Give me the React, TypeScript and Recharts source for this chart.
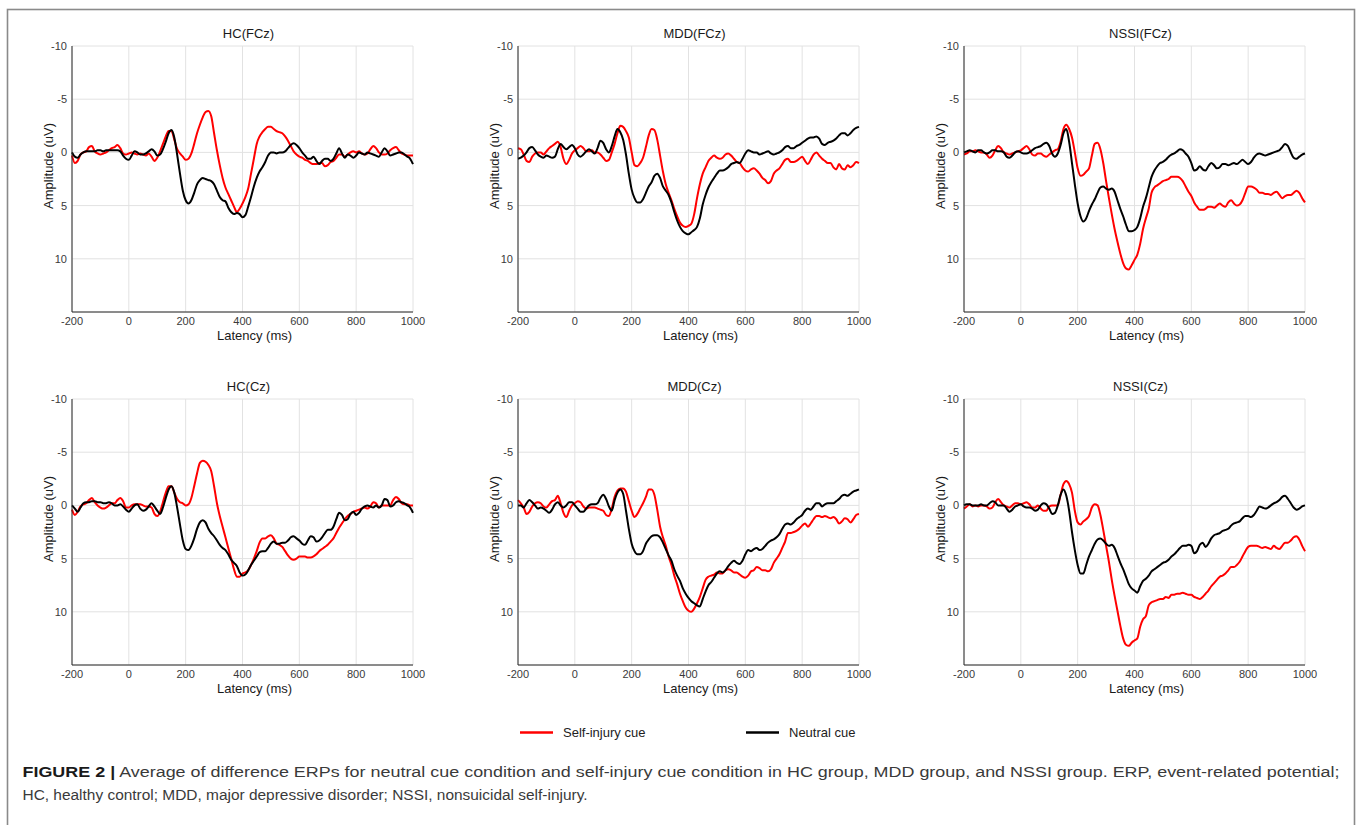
import React from "react";
import { LineChart, Line, XAxis, YAxis, CartesianGrid } from "recharts";

// latency samples, every 10 ms from -200 to 1000
const LATENCY = Array.from({ length: 121 }, (_, i) => -200 + i * 10);

const X_TICKS = [-200, 0, 200, 400, 600, 800, 1000];
const Y_TICKS = [-10, -5, 0, 5, 10];

// HC(FCz)
const HC_FCZ_SELF = [
	0.3, 1.0, 0.8, 0.2, 0.0, -0.1, -0.5, -0.6, -0.1, 0.1,
	0.2, 0.1, 0.0, -0.2, -0.4, -0.5, -0.7, -0.4, 0.1, 0.2,
	0.1, 0.0, 0.1, 0.2, 0.1, 0.2, 0.3, 0.1, 0.4, 0.8,
	0.5, -0.1, -0.8, -1.5, -2.0, -2.0, -1.2, -0.3, 0.1, 0.4,
	0.7, 0.6, 0.1, -0.8, -1.8, -2.6, -3.3, -3.8, -3.9, -3.4,
	-1.8, -0.2, 1.2, 2.4, 3.3, 3.9, 4.5, 5.1, 5.6, 5.3,
	4.8, 4.2, 3.4, 2.0, 0.6, -0.8, -1.5, -1.9, -2.2, -2.4,
	-2.4, -2.2, -2.0, -1.9, -1.8, -1.5, -1.1, -0.6, -0.1, 0.2,
	0.4, 0.5, 0.7, 0.8, 1.0, 1.1, 1.1, 1.0, 1.0, 1.3,
	1.2, 0.9, 0.8, 0.5, 0.2, 0.2, 0.4, 0.2, 0.0, -0.1,
	0.0, -0.1, 0.1, 0.2, 0.1, -0.3, -0.6, -0.4, 0.0, 0.2,
	0.2, 0.1, -0.2, -0.4, -0.5, -0.2, 0.1, 0.2, 0.3, 0.3,
	0.3,
];
const HC_FCZ_NEUTRAL = [
	0.0, 0.4, 0.5, 0.2, 0.0, -0.1, -0.1, -0.1, -0.1, -0.2,
	-0.2, -0.1, -0.2, -0.2, -0.2, -0.2, -0.2, -0.1, 0.3, 0.6,
	0.7, 0.3, -0.1, 0.0, 0.2, 0.2, 0.1, -0.1, -0.3, -0.1,
	0.3, 0.2, -0.3, -1.0, -1.8, -2.1, -1.4, 0.2, 2.0, 3.6,
	4.5, 4.8, 4.5, 3.8, 3.0, 2.6, 2.4, 2.5, 2.6, 2.7,
	3.0, 3.6, 4.2, 4.5, 4.6, 5.2, 5.6, 5.8, 5.7, 5.8,
	6.1, 5.9, 5.1, 4.2, 3.2, 2.4, 1.8, 1.4, 0.9, 0.3,
	0.0, 0.0, 0.1, 0.0, 0.0, -0.1, -0.4, -0.7, -0.85, -0.7,
	-0.4, 0.0, 0.3, 0.6, 0.6, 0.4, 0.8, 1.1, 0.8, 0.6,
	0.6, 0.8, 0.6, 0.1, -0.4, 0.1, 0.5, 0.2, 0.3, 0.5,
	0.3, 0.0, 0.1, 0.2, 0.0, 0.1, 0.2, 0.3, 0.4, 0.0,
	-0.4, -0.1, 0.3, 0.2, 0.1, 0.0, 0.0, 0.2, 0.4, 0.6,
	1.1,
];

// MDD(FCz)
const MDD_FCZ_SELF = [
	-0.4, -0.3, 0.2, 0.8, 0.9, 0.4, 0.1, 0.0, 0.0, 0.2,
	-0.1, -0.4, -0.6, -0.8, -1.0, -0.5, 0.6, 1.1, 0.7, 0.1,
	-0.2, -0.4, -0.6, -0.4, -0.1, -0.1, -0.2, 0.0, 0.0, 0.2,
	0.5, 0.8, 0.7, 0.0, -0.8, -1.8, -2.5, -2.4, -2.0, -1.4,
	0.0, 1.2, 1.3, 1.0, 0.5, -0.5, -1.6, -2.2, -2.1, -1.2,
	0.3, 1.8, 3.0, 3.8, 4.5, 5.3, 6.0, 6.6, 6.9, 7.0,
	6.9, 6.7, 5.8, 4.3, 3.0, 2.0, 1.4, 0.8, 0.5, 0.3,
	0.5, 0.6, 0.5, 0.2, 0.1, 0.3, 0.6, 0.9, 1.0, 1.4,
	1.7, 1.8, 1.6, 1.5, 1.7, 2.0, 2.4, 2.6, 2.9, 2.7,
	2.0, 1.7, 1.5, 1.1, 0.7, 0.6, 0.9, 0.9, 0.8, 0.6,
	0.4, 0.8, 1.1, 0.7, 0.2, 0.0, 0.3, 0.6, 0.8, 1.0,
	1.0, 1.4, 1.6, 1.1, 1.5, 1.6, 1.2, 1.4, 1.2, 0.9,
	1.0,
];
const MDD_FCZ_NEUTRAL = [
	0.6, 0.5, 0.3, 0.0, -0.4, -0.5, -0.2, 0.2, 0.4, 0.5,
	0.3, 0.4, 0.5, 0.4, -0.3, -0.8, -0.5, -0.3, -0.5, -0.7,
	-0.4, 0.2, 0.4, 0.2, -0.1, -0.3, -0.1, 0.1, -0.4, -1.1,
	-0.9, -0.3, 0.0, -0.6, -1.5, -2.2, -1.9, -1.2, 0.2, 2.0,
	3.5, 4.3, 4.7, 4.7, 4.4, 3.8, 3.2, 2.8, 2.2, 2.0,
	2.4, 3.2, 3.6, 4.0, 4.7, 5.6, 6.4, 7.0, 7.4, 7.6,
	7.7, 7.5, 7.3, 7.0, 6.2, 4.9, 4.0, 3.3, 2.8, 2.4,
	2.0, 1.7, 1.7, 1.6, 1.4, 1.1, 1.0, 0.9, 1.0, 0.6,
	0.1, -0.2, -0.1, 0.0, 0.0, 0.2, 0.1, 0.0, -0.1, 0.1,
	0.2, 0.1, 0.0, -0.2, -0.5, -0.6, -0.4, -0.4, -0.6, -0.7,
	-0.9, -1.1, -1.3, -1.4, -1.4, -1.5, -1.3, -0.8, -0.7, -0.9,
	-1.0, -1.1, -1.3, -1.6, -1.8, -1.8, -1.6, -1.8, -2.1, -2.3,
	-2.4,
];

// NSSI(FCz)
const NSSI_FCZ_SELF = [
	0.2, 0.1, -0.1, -0.1, -0.2, -0.1, 0.0, 0.0, 0.2, 0.5,
	0.3, -0.2, -0.6, -0.4, 0.0, 0.1, 0.2, 0.1, 0.0, -0.1,
	-0.2, -0.4, -0.6, -0.3, 0.2, 0.3, 0.1, 0.1, 0.3, 0.4,
	0.2, 0.0, -0.2, -0.3, -1.0, -2.2, -2.6, -2.2, -1.4, 0.0,
	1.5, 2.2, 2.1, 1.8, 1.5, 0.3, -0.8, -0.9, -0.3, 1.0,
	2.7, 4.3, 5.8, 7.2, 8.4, 9.5, 10.4, 10.9, 11.0, 10.6,
	10.1, 9.6, 8.6, 7.2, 6.2, 5.3, 3.8, 3.3, 3.1, 2.9,
	2.7, 2.6, 2.5, 2.3, 2.3, 2.3, 2.4, 2.7, 3.2, 3.7,
	4.1, 4.7, 5.1, 5.4, 5.4, 5.3, 5.1, 5.1, 5.2, 5.0,
	4.8, 5.0, 5.1, 4.7, 4.5, 4.8, 5.0, 4.9, 4.5, 3.8,
	3.2, 3.2, 3.3, 3.5, 3.8, 3.8, 3.9, 3.9, 4.0, 3.8,
	3.7, 4.0, 4.3, 4.1, 4.0, 4.0, 3.8, 3.6, 3.8, 4.3,
	4.7,
];
const NSSI_FCZ_NEUTRAL = [
	0.0, -0.1, -0.2, -0.1, 0.0, -0.2, -0.2, 0.0, 0.1, 0.0,
	-0.2, -0.2, -0.1, -0.1, 0.0, 0.4, 0.5, 0.3, 0.0, -0.1,
	0.0, 0.1, 0.1, 0.0, -0.2, -0.4, -0.5, -0.6, -0.8, -0.9,
	-0.6, 0.1, 0.4, 0.1, -0.7, -1.8, -2.2, -1.0, 1.0, 3.0,
	4.8, 6.0, 6.5, 6.2, 5.5, 4.9, 4.4, 3.8, 3.3, 3.2,
	3.4, 3.5, 3.4, 3.7, 4.5, 5.3, 6.0, 6.8, 7.4, 7.4,
	7.3, 7.0, 6.2, 5.1, 4.3, 3.3, 2.3, 1.7, 1.3, 1.0,
	0.9, 0.7, 0.4, 0.2, 0.1, -0.1, -0.3, -0.2, 0.1, 0.4,
	1.0, 1.7, 1.6, 1.3, 1.6, 1.7, 1.3, 1.0, 1.2, 1.5,
	1.4, 1.1, 1.1, 1.2, 1.1, 1.0, 1.1, 0.9, 0.7, 0.9,
	1.1, 0.9, 0.5, 0.2, 0.1, 0.2, 0.3, 0.2, 0.1, 0.0,
	-0.1, -0.2, -0.5, -0.8, -0.6, 0.0, 0.5, 0.6, 0.4, 0.2,
	0.1,
];

// HC(Cz)
const HC_CZ_SELF = [
	0.4, 0.9, 0.6, 0.1, -0.1, -0.2, -0.5, -0.7, -0.3, 0.0,
	0.2, 0.3, 0.2, 0.0, -0.2, -0.2, -0.5, -0.7, -0.4, 0.2,
	0.2, 0.0, -0.1, -0.1, -0.1, 0.0, 0.1, 0.1, 0.2, 0.8,
	1.0, 0.6, -0.3, -1.2, -1.8, -1.8, -1.2, -0.6, -0.3, -0.2,
	0.0, -0.1, -0.7, -1.8, -3.0, -4.0, -4.2, -4.1, -3.8, -3.2,
	-1.8, -0.2, 1.0, 2.0, 3.0, 4.0, 5.0, 6.0, 6.7, 6.7,
	6.4, 6.3, 6.1, 5.6, 5.0, 4.3, 3.5, 3.1, 3.1, 2.9,
	2.8, 3.1, 3.6, 3.7, 3.9, 4.3, 4.7, 5.0, 5.1, 5.0,
	4.8, 4.8, 4.8, 4.9, 4.9, 4.8, 4.6, 4.3, 4.1, 3.9,
	3.7, 3.4, 3.1, 2.6, 2.1, 1.7, 1.3, 1.0, 0.8, 0.6,
	0.5, 0.4, 0.3, 0.2, 0.3, 0.1, -0.3, -0.2, 0.2, 0.0,
	0.0, 0.0, 0.0, -0.5, -0.8, -0.6, -0.2, -0.1, -0.1, 0.0,
	0.0,
];
const HC_CZ_NEUTRAL = [
	0.0, 0.3, 0.6, 0.2, -0.2, -0.3, -0.3, -0.4, -0.4, -0.3,
	-0.3, -0.2, -0.2, -0.3, -0.2, 0.0, 0.0, -0.1, 0.1, 0.4,
	0.6, 0.3, 0.0, -0.1, 0.3, 0.5, 0.4, 0.1, -0.2, 0.1,
	0.5, 0.8, 0.2, -0.7, -1.5, -1.8, -1.2, 0.2, 1.8, 3.3,
	4.1, 4.2, 3.8, 3.1, 2.2, 1.6, 1.4, 1.6, 2.2, 2.6,
	2.9, 3.3, 3.7, 4.0, 4.2, 4.6, 5.1, 5.4, 5.7, 6.3,
	6.6, 6.5, 6.1, 5.6, 5.2, 4.8, 4.4, 4.3, 4.3, 4.0,
	3.6, 3.4, 3.6, 3.6, 3.5, 3.5, 3.3, 3.0, 2.9, 3.1,
	3.3, 3.6, 3.7, 3.3, 2.9, 3.0, 3.4, 3.3, 3.0, 2.6,
	2.3, 2.3, 2.0, 1.3, 0.7, 0.9, 1.4, 1.3, 0.8, 0.6,
	0.9, 0.7, 0.3, 0.1, 0.0, 0.1, 0.2, 0.0, 0.2, 0.0,
	-0.6, -0.5, 0.1, 0.0, -0.3, -0.4, -0.3, -0.2, 0.0, 0.2,
	0.7,
];

// MDD(Cz)
const MDD_CZ_SELF = [
	-0.5, -0.2, 0.2, 0.8, 0.6, 0.1, -0.2, -0.3, -0.2, 0.1,
	0.2, -0.1, -0.4, -0.5, -0.9, -0.2, 0.7, 1.1, 0.5, 0.0,
	-0.2, -0.4, -0.3, 0.1, 0.3, 0.2, 0.2, 0.2, 0.3, 0.4,
	0.5, 0.9, 1.0, 0.3, -0.8, -1.4, -1.6, -1.6, -1.3, -0.4,
	0.5, 1.1, 0.8, 0.3, -0.2, -0.8, -1.5, -1.5, -1.0, 0.4,
	2.0, 3.0, 3.8, 4.8, 5.6, 6.6, 7.4, 8.3, 9.0, 9.6,
	9.9, 10.0, 9.7, 9.2, 8.6, 7.8, 7.0, 6.7, 6.6, 6.5,
	6.3, 6.4, 6.4, 6.1, 6.0, 6.1, 6.3, 6.3, 6.5, 6.7,
	6.8, 6.6, 6.2, 6.1, 5.8, 5.9, 6.1, 6.1, 6.2, 6.0,
	5.4, 5.0, 4.6, 4.0, 3.4, 2.6, 2.6, 2.5, 2.4, 2.2,
	1.9, 1.7, 2.0, 1.7, 1.3, 1.0, 1.0, 1.1, 1.0, 1.1,
	1.2, 1.1, 1.3, 1.7, 1.5, 1.2, 1.3, 1.6, 1.3, 0.9,
	0.8,
];
const MDD_CZ_NEUTRAL = [
	0.0, 0.0, 0.2, -0.2, -0.5, -0.3, 0.0, 0.3, 0.2, 0.3,
	0.5, 0.7, 0.4, -0.1, -0.3, 0.0, 0.2, 0.0, -0.3, -0.3,
	0.0, 0.3, 0.6, 0.6, 0.3, 0.0, -0.1, -0.1, -0.2, -0.7,
	-1.0, -0.6, 0.1, 0.5, -0.5, -1.2, -1.5, -1.1, 0.5, 2.2,
	3.6, 4.3, 4.6, 4.6, 4.3, 3.6, 3.2, 2.9, 2.8, 2.8,
	3.0, 3.5, 4.1, 4.7, 5.2, 6.0, 6.6, 7.1, 7.8, 8.3,
	8.7, 9.0, 9.2, 9.4, 9.5, 8.8, 8.1, 7.5, 7.2, 6.8,
	6.4, 6.2, 6.3, 6.1, 5.7, 5.4, 5.2, 5.4, 5.5, 5.2,
	4.6, 4.2, 4.3, 4.1, 4.0, 4.2, 4.1, 3.8, 3.5, 3.3,
	3.2, 3.0, 2.7, 2.2, 1.8, 1.7, 1.8, 1.6, 1.3, 1.1,
	0.9, 0.5, 0.3, 0.4, 0.1, -0.2, -0.2, 0.1, -0.1, -0.2,
	-0.2, -0.2, -0.4, -0.6, -0.9, -1.0, -0.9, -1.1, -1.3, -1.4,
	-1.5,
];

// NSSI(Cz)
const NSSI_CZ_SELF = [
	0.3, 0.1, -0.1, 0.1, 0.0, 0.1, 0.0, 0.0, 0.1, 0.3,
	0.2, -0.3, -0.6, -0.3, 0.0, 0.1, 0.2, 0.0, -0.2, -0.2,
	-0.1, -0.2, -0.3, -0.1, 0.2, 0.2, 0.0, 0.3, 0.5, 0.5,
	0.1, 0.0, 0.0, 0.0, -1.0, -2.0, -2.3, -2.0, -1.2, 0.5,
	1.6, 1.8, 1.5, 1.3, 1.0, 0.2, -0.1, 0.0, 0.9, 2.3,
	3.8, 5.3, 7.0, 8.5, 9.9, 11.3, 12.5, 13.1, 13.2, 12.9,
	12.7, 12.5, 11.4, 10.7, 10.4, 9.4, 9.1, 9.0, 8.9, 8.8,
	8.8, 8.6, 8.7, 8.4, 8.4, 8.3, 8.3, 8.2, 8.3, 8.4,
	8.4, 8.6, 8.7, 8.8, 8.6, 8.3, 8.0, 7.6, 7.3, 7.0,
	6.7, 6.6, 6.4, 6.1, 5.8, 5.8, 5.6, 5.3, 4.8, 4.3,
	3.9, 3.8, 3.8, 3.8, 3.9, 4.0, 3.9, 4.0, 4.1, 3.8,
	4.0, 4.1, 3.8, 3.5, 3.5, 3.3, 3.0, 2.9, 3.2, 3.8,
	4.3,
];
const NSSI_CZ_NEUTRAL = [
	0.0, -0.1, -0.1, 0.0, 0.0, 0.0, -0.1, 0.0, 0.0, -0.2,
	-0.4, -0.3, 0.0, 0.0, 0.0, 0.3, 0.6, 0.4, 0.1, 0.0,
	-0.1, 0.1, 0.2, 0.2, 0.3, 0.5, 0.4, 0.0, -0.2, -0.1,
	0.3, 0.8, 0.7, 0.0, -1.0, -1.5, -0.9, 0.5, 2.5, 4.2,
	5.6, 6.4, 6.4, 5.6, 4.8, 4.2, 3.6, 3.2, 3.1, 3.3,
	3.6, 3.8, 3.7, 4.0, 4.7, 5.4, 6.0, 6.7, 7.4, 7.8,
	8.0, 8.2, 7.6, 7.1, 6.9, 6.6, 6.2, 6.0, 5.8, 5.6,
	5.4, 5.3, 5.1, 4.8, 4.6, 4.3, 4.0, 3.8, 3.8, 3.7,
	3.8, 4.5, 4.3, 3.7, 3.5, 3.9, 3.6, 3.1, 2.8, 2.7,
	2.6, 2.4, 2.3, 2.2, 1.9, 1.7, 1.6, 1.5, 1.2, 1.0,
	1.0, 1.1, 0.9, 0.5, 0.1, 0.2, 0.3, 0.2, 0.0, -0.2,
	-0.3, -0.5, -0.8, -0.9, -0.6, -0.2, 0.2, 0.4, 0.3, 0.1,
	0.0,
];

const FONT = '"Liberation Sans", Arial, Helvetica, sans-serif';
const RED = "#ff0000";
const BLACK = "#000000";
const AXIS_COLOR = "#262626";
const TICK_COLOR = "#3a3a3a";
const GRID_COLOR = "#e2e2e2";

// plot-area geometry
const PLOT_W = 341;
const PLOT_H = 266;
const Y_AXIS_W = 60;
const X_AXIS_H = 40;
const M_TOP = 20;
const M_RIGHT = 15;

const PANELS = [
	{ title: "HC(FCz)", left: 72, top: 46, self: HC_FCZ_SELF, neutral: HC_FCZ_NEUTRAL },
	{ title: "MDD(FCz)", left: 518, top: 46, self: MDD_FCZ_SELF, neutral: MDD_FCZ_NEUTRAL },
	{ title: "NSSI(FCz)", left: 964, top: 46, self: NSSI_FCZ_SELF, neutral: NSSI_FCZ_NEUTRAL },
	{ title: "HC(Cz)", left: 72, top: 399, self: HC_CZ_SELF, neutral: HC_CZ_NEUTRAL },
	{ title: "MDD(Cz)", left: 518, top: 399, self: MDD_CZ_SELF, neutral: MDD_CZ_NEUTRAL },
	{ title: "NSSI(Cz)", left: 964, top: 399, self: NSSI_CZ_SELF, neutral: NSSI_CZ_NEUTRAL },
];

const centered = (x: number, y: number, extra = {}) => ({
	position: "absolute" as const,
	left: x,
	top: y,
	transform: "translate(-50%, -50%)",
	whiteSpace: "nowrap" as const,
	lineHeight: 1,
	fontFamily: FONT,
	...extra,
});

function Panel({ panel }) {
	const data = LATENCY.map((t, i) => ({
		t,
		self: panel.self[i],
		neutral: panel.neutral[i],
	}));
	const cx = panel.left + PLOT_W / 2;

	return (
		<>
			<div style={{ position: "absolute", left: panel.left - Y_AXIS_W, top: panel.top - M_TOP }}>
				<LineChart
					width={Y_AXIS_W + PLOT_W + M_RIGHT}
					height={M_TOP + PLOT_H + X_AXIS_H}
					data={data}
					margin={{ top: M_TOP, right: M_RIGHT, bottom: 0, left: 0 }}>
					<CartesianGrid stroke={GRID_COLOR} strokeWidth={1} />
					<XAxis
						dataKey='t'
						type='number'
						domain={[-200, 1000]}
						ticks={X_TICKS}
						height={X_AXIS_H}
						tickSize={0}
						tickMargin={5}
						axisLine={{ stroke: AXIS_COLOR }}
						tick={{ fill: TICK_COLOR, fontSize: 11, fontFamily: FONT }}
					/>
					<YAxis
						type='number'
						domain={[-10, 15]}
						reversed
						ticks={Y_TICKS}
						width={Y_AXIS_W}
						tickSize={0}
						tickMargin={5}
						axisLine={{ stroke: AXIS_COLOR }}
						tick={{ fill: TICK_COLOR, fontSize: 11, fontFamily: FONT }}
					/>
					<Line
						dataKey='self'
						type='monotone'
						stroke={RED}
						strokeWidth={2}
						dot={false}
						isAnimationActive={false}
					/>
					<Line
						dataKey='neutral'
						type='monotone'
						stroke={BLACK}
						strokeWidth={2}
						dot={false}
						isAnimationActive={false}
					/>
				</LineChart>
			</div>
			<div style={centered(cx + 6, panel.top - 13, { fontSize: 13, color: "#1a1a1a" })}>
				{panel.title}
			</div>
			<div
				style={centered(panel.left - 24, panel.top + 120, {
					fontSize: 13,
					color: "#1a1a1a",
					transform: "translate(-50%, -50%) rotate(-90deg)",
				})}>
				Amplitude (uV)
			</div>
			<div style={centered(cx + 12, panel.top + 289, { fontSize: 13, color: "#1a1a1a" })}>
				Latency (ms)
			</div>
		</>
	);
}

export default function App() {
	return (
		<div
			style={{
				position: "absolute",
				left: 0,
				top: 0,
				width: 1357,
				height: 825,
				overflow: "hidden",
				background: "#fff",
				fontFamily: FONT,
			}}>
			{PANELS.map(p => (
				<Panel key={p.title} panel={p} />
			))}

			<svg
				width={1357}
				height={825}
				style={{ position: "absolute", left: 0, top: 0, pointerEvents: "none" }}>
				{/* figure frame */}
				<rect x={7.5} y={9.5} width={1347} height={840} fill='none' stroke='#8a8a8a' strokeWidth={1.6} />

				{/* shared legend */}
				<line x1={520} x2={553} y1={732.5} y2={732.5} stroke={RED} strokeWidth={2.5} />
				<text x={563} y={737} fontSize={13} fill='#222' fontFamily={FONT}>
					Self-injury cue
				</text>
				<line x1={746} x2={779} y1={732.5} y2={732.5} stroke={BLACK} strokeWidth={2.5} />
				<text x={789} y={737} fontSize={13} fill='#222' fontFamily={FONT}>
					Neutral cue
				</text>

				{/* caption */}
				<text x={22.5} y={777} fontSize={15.5} fill='#3a3a3a' fontFamily={FONT} textLength={1317} lengthAdjust='spacingAndGlyphs'>
					<tspan fontWeight='bold' fill='#1a1a1a'>FIGURE 2 |</tspan>
					<tspan> Average of difference ERPs for neutral cue condition and self-injury cue condition in HC group, MDD group, and NSSI group. ERP, event-related potential;</tspan>
				</text>
				<text x={22.5} y={800} fontSize={15.5} fill='#3a3a3a' fontFamily={FONT} textLength={565} lengthAdjust='spacingAndGlyphs'>
					HC, healthy control; MDD, major depressive disorder; NSSI, nonsuicidal self-injury.
				</text>
			</svg>
		</div>
	);
}
